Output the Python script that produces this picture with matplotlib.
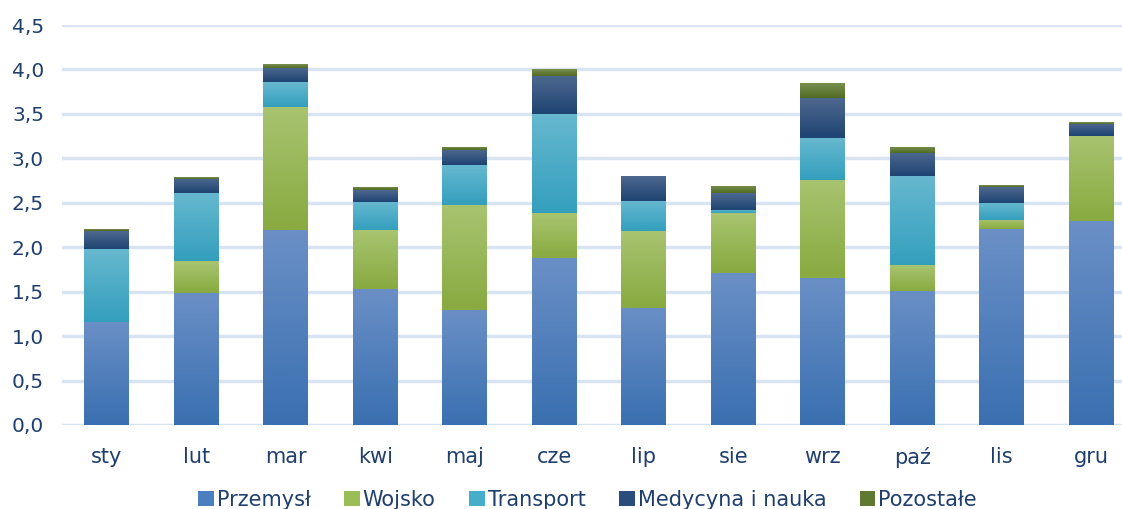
import matplotlib
matplotlib.use("Agg")
import matplotlib.pyplot as plt
import numpy as np
from matplotlib.colors import LinearSegmentedColormap
from matplotlib.patches import Patch

months = ["sty", "lut", "mar", "kwi", "maj", "cze", "lip", "sie", "wrz", "paź", "lis", "gru"]
series_names = ["Przemysł", "Wojsko", "Transport", "Medycyna i nauka", "Pozostałe"]
przemysl = [1.16, 1.48, 2.19, 1.53, 1.29, 1.88, 1.32, 1.71, 1.65, 1.51, 2.20, 2.29]
wojsko = [0.00, 0.36, 1.39, 0.66, 1.18, 0.50, 0.86, 0.67, 1.11, 0.29, 0.11, 0.96]
transport = [0.82, 0.77, 0.28, 0.32, 0.45, 1.12, 0.34, 0.04, 0.47, 1.00, 0.19, 0.00]
medycyna = [0.20, 0.16, 0.16, 0.13, 0.17, 0.43, 0.28, 0.19, 0.45, 0.26, 0.18, 0.14]
pozostale = [0.03, 0.02, 0.04, 0.04, 0.04, 0.07, 0.00, 0.08, 0.17, 0.07, 0.02, 0.02]
yticks = [0.0, 0.5, 1.0, 1.5, 2.0, 2.5, 3.0, 3.5, 4.0, 4.5]

series = [przemysl, wojsko, transport, medycyna, pozostale]
# (top colour, bottom colour, legend colour)
colors = [("#6a8fc6", "#3a70b1", "#4a7fc0"),
          ("#a8c470", "#88aa40", "#9bbd55"),
          ("#66b8cf", "#349fbd", "#44aecb"),
          ("#4d6890", "#1f4472", "#2a4d7d"),
          ("#7a9152", "#526c22", "#5f7a30")]

fig = plt.figure(figsize=(11.22, 5.09), dpi=100)
ax = fig.add_axes([62/1122, 1-425/509, 1-62/1122, 400/509])

x = np.arange(len(months))
bottom = np.zeros(len(months))
txt = "#1f3f6e"
for vals, (ctop, cbot, cleg) in zip(series, colors):
    vals = np.array(vals)
    bars = ax.bar(x, vals, width=0.5, bottom=bottom, color=cleg, linewidth=0, zorder=3)
    cmap = LinearSegmentedColormap.from_list("g", [cbot, ctop])
    grad = np.linspace(0, 1, 64).reshape(-1, 1)
    for b in bars:
        if b.get_height() <= 0:
            continue
        x0, y0 = b.get_x(), b.get_y()
        im = ax.imshow(grad, cmap=cmap, origin="lower", aspect="auto",
                       extent=[x0, x0 + b.get_width(), y0, y0 + b.get_height()],
                       zorder=4, interpolation="bilinear")
        im.set_clip_path(b)
    bottom += vals

ax.set_xlim(-0.5, -0.5 + 1060/89.5)
ax.set_ylim(0, 4.5)
ax.set_yticks(yticks)
ax.set_yticklabels([f"{v:.1f}".replace(".", ",") for v in yticks])
ax.set_xticks(x)
ax.set_xticklabels(months)
ax.yaxis.grid(True, color="#d9e4f2", linewidth=2.5, zorder=0)
ax.set_axisbelow(True)
for s in ax.spines.values():
    s.set_visible(False)
ax.tick_params(axis="both", length=0, labelcolor=txt)
ax.tick_params(axis="y", pad=13, labelsize=14.5)
ax.tick_params(axis="x", pad=15.5, labelsize=15)

handles = [Patch(facecolor=c[2], edgecolor="none") for c in colors]
leg = fig.legend(handles, series_names, loc="center", bbox_to_anchor=(587.5/1122, 1-500/509),
                 ncol=5, frameon=False, fontsize=15, handlelength=0.75, handleheight=0.75,
                 handletextpad=0.15, columnspacing=1.6, labelcolor=txt,
                 borderpad=0, borderaxespad=0)

fig.savefig("out.png", dpi=100)
